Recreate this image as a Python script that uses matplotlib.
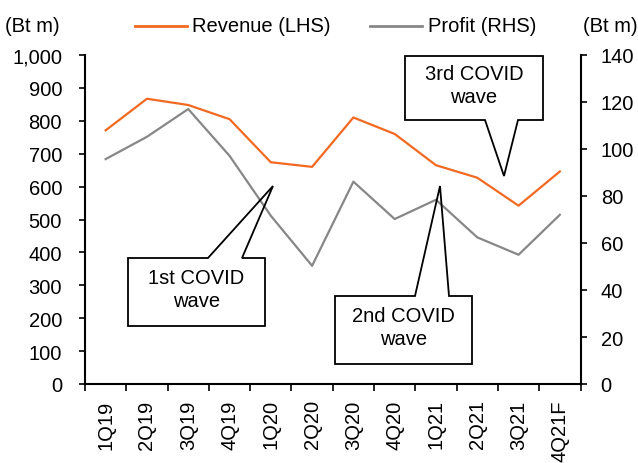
import matplotlib
matplotlib.use("Agg")
import matplotlib.pyplot as plt
from matplotlib.patches import Polygon, Rectangle
from matplotlib.ticker import FuncFormatter, FixedLocator
import numpy as np

plt.rcParams['font.family'] = ['Liberation Sans', 'DejaVu Sans']

quarters = ["1Q19", "2Q19", "3Q19", "4Q19", "1Q20", "2Q20", "3Q20", "4Q20",
            "1Q21", "2Q21", "3Q21", "4Q21F"]
revenue = [771, 867, 848, 805, 674, 660, 810, 760, 665, 627, 542, 646]
profit = [95.7, 105.2, 117.0, 97.1, 71.6, 50.3, 86.1, 70.2, 78.4, 62.4, 55.0, 72.0]
left_ticks = [0, 100, 200, 300, 400, 500, 600, 700, 800, 900, 1000]
right_ticks = [0, 20, 40, 60, 80, 100, 120, 140]

W, H = 638, 464
FS = 14.5
fig = plt.figure(figsize=(W / 100, H / 100), dpi=100)
ax = fig.add_axes([85 / W, 1 - 385 / H, 495.5 / W, 329 / H])
ax2 = ax.twinx()

orange = '#F26A21'
gray = '#878787'
x = np.arange(len(quarters))
ax.plot(x, revenue, color=orange, lw=1.6, zorder=3)
ax2.plot(x, profit, color=gray, lw=1.6, zorder=3)

ax.set_xlim(-0.5, len(quarters) - 0.5)
ax.set_ylim(0, 1000)
ax2.set_ylim(0, 140)
ax.set_yticks(left_ticks)
ax.yaxis.set_major_formatter(FuncFormatter(lambda v, p: f"{int(v):,}"))
ax2.set_yticks(right_ticks)

ax.set_xticks(x)
ax.set_xticklabels(quarters, rotation=90)
ax.xaxis.set_minor_locator(FixedLocator(np.arange(-0.5, len(quarters), 1.0)))
ax.tick_params(axis='x', which='major', length=0, pad=11, labelsize=FS)
ax.tick_params(axis='x', which='minor', length=5, width=1.2, direction='out')
ax.tick_params(axis='y', length=4.5, width=1.2, direction='out', labelsize=FS, pad=12)
ax2.tick_params(axis='y', length=4.5, width=1.2, direction='out', labelsize=FS, pad=10)

for a in (ax, ax2):
    a.spines['top'].set_visible(False)
    for s in ('left', 'right', 'bottom'):
        a.spines[s].set_linewidth(1.5)
ax.spines['right'].set_visible(False)
ax2.spines['left'].set_visible(False)
ax2.spines['bottom'].set_visible(False)

# Header texts
def P(px, py):
    return (px / W, 1 - py / H)

fig.text(*P(5, 27), "(Bt m)", fontsize=FS, va='center', ha='left')
fig.text(*P(638, 27), "(Bt m)", fontsize=FS, va='center', ha='right')
fig.add_artist(plt.Line2D([135 / W, 187 / W], [1 - 27 / H] * 2, color=orange, lw=2))
fig.text(*P(192, 27), "Revenue (LHS)", fontsize=FS, va='center', ha='left')
fig.add_artist(plt.Line2D([370 / W, 422 / W], [1 - 27 / H] * 2, color=gray, lw=2))
fig.text(*P(428, 27), "Profit (RHS)", fontsize=FS, va='center', ha='left')

# Callouts (pixel coords)
def callout(x0, y0, x1, y1, b1, b2, tip, side, text):
    fig.add_artist(Rectangle(P(x0, y1), (x1 - x0) / W, (y1 - y0) / H,
                             transform=fig.transFigure, facecolor='white',
                             edgecolor='none', zorder=5))
    if side == 'top':
        pts = [(b1, y0), tip, (b2, y0), (x1, y0), (x1, y1), (x0, y1), (x0, y0)]
    else:
        pts = [(x0, y0), (x1, y0), (x1, y1), (b2, y1), tip, (b1, y1), (x0, y1)]
    fig.add_artist(Polygon([P(*p) for p in pts], closed=True,
                           transform=fig.transFigure, facecolor='none',
                           edgecolor='black', lw=1.3, zorder=6))
    fig.text(*P((x0 + x1) / 2, (y0 + y1) / 2 - 3), text, fontsize=FS,
             ha='center', va='center', zorder=7, linespacing=1.3)

callout(128, 259, 265, 327, 208, 242, (273, 187), 'top', "1st COVID\nwave")
callout(335, 297, 472, 365, 415, 449, (440, 187), 'top', "2nd COVID\nwave")
callout(405, 57, 543, 121, 485, 518, (504, 177), 'bottom', "3rd COVID\nwave")

fig.savefig("out.png", dpi=100)
